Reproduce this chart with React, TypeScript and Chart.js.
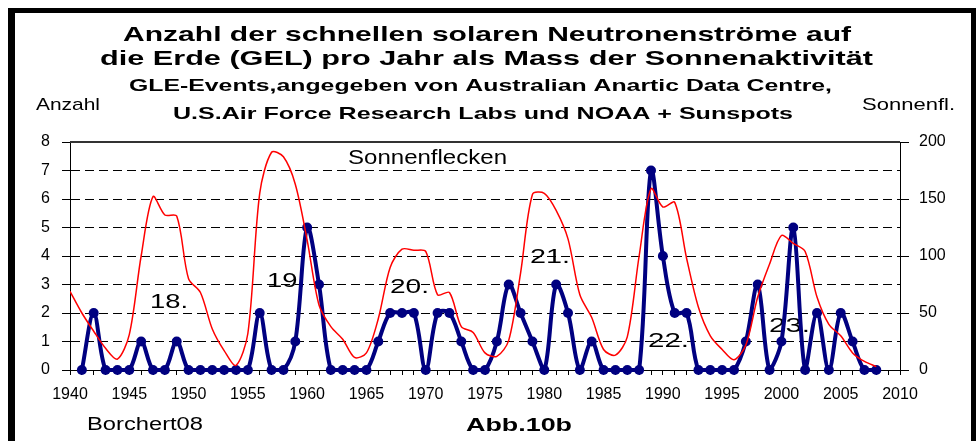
import React, { useEffect, useRef } from 'react';
import { Chart, registerables } from 'chart.js';

Chart.register(...registerables);

// ---- Data ----
const gleYears = [
  1941, 1942, 1943, 1944, 1945, 1946, 1947, 1948, 1949, 1950,
  1951, 1952, 1953, 1954, 1955, 1956, 1957, 1958, 1959, 1960,
  1961, 1962, 1963, 1964, 1965, 1966, 1967, 1968, 1969, 1970,
  1971, 1972, 1973, 1974, 1975, 1976, 1977, 1978, 1979, 1980,
  1981, 1982, 1983, 1984, 1985, 1986, 1987, 1988, 1989, 1990,
  1991, 1992, 1993, 1994, 1995, 1996, 1997, 1998, 1999, 2000,
  2001, 2002, 2003, 2004, 2005, 2006, 2007, 2008,
];
const gleCounts = [
  0, 2, 0, 0, 0, 1, 0, 0, 1, 0,
  0, 0, 0, 0, 0, 2, 0, 0, 1, 5,
  3, 0, 0, 0, 0, 1, 2, 2, 2, 0,
  2, 2, 1, 0, 0, 1, 3, 2, 1, 0,
  3, 2, 0, 1, 0, 0, 0, 0, 7, 4,
  2, 2, 0, 0, 0, 0, 1, 3, 0, 1,
  5, 0, 2, 0, 2, 1, 0, 0,
];
const sunspotYears = [
  1940, 1941, 1942, 1943, 1944, 1945, 1946, 1947, 1948, 1949,
  1950, 1951, 1952, 1953, 1954, 1955, 1956, 1957, 1958, 1959,
  1960, 1961, 1962, 1963, 1964, 1965, 1966, 1967, 1968, 1969,
  1970, 1971, 1972, 1973, 1974, 1975, 1976, 1977, 1978, 1979,
  1980, 1981, 1982, 1983, 1984, 1985, 1986, 1987, 1988, 1989,
  1990, 1991, 1992, 1993, 1994, 1995, 1996, 1997, 1998, 1999,
  2000, 2001, 2002, 2003, 2004, 2005, 2006, 2007, 2008,
];
const sunspots = [
  69, 50, 34, 19, 9.5, 31, 100, 152, 136, 135,
  80, 68, 36, 17, 4, 32, 155, 191, 187, 163,
  114, 57, 38, 27, 11, 15, 45, 90, 106, 105,
  104, 66, 68, 38, 33, 15, 12, 26, 85, 154,
  155, 140, 115, 66, 46, 18, 13, 29, 100, 159,
  143, 147, 98, 55, 30, 18, 9, 22, 64, 93,
  118, 111, 104, 64, 40, 30, 15, 7.5, 3,
];
const xLabelStep = 5;

const titleLines = [
  'Anzahl der schnellen solaren Neutronenströme auf',
  'die Erde (GEL) pro Jahr als Mass der Sonnenaktivität',
];
const subtitleLines = [
  'GLE-Events,angegeben von Australian Anartic Data Centre,',
  'U.S.Air Force Research Labs und NOAA + Sunspots',
];
const leftAxisTitle = 'Anzahl';
const rightAxisTitle = 'Sonnenfl.';
const seriesLabel = 'Sonnenflecken';
const cycleLabels = ['18.', '19.', '20.', '21.', '22.', '23.'];
const authorNote = 'Borchert08';
const figureNote = 'Abb.10b';

const FAMILY = '"Liberation Sans", Arial, Helvetica, sans-serif';

function drawStretched(
  ctx: CanvasRenderingContext2D,
  text: string,
  left: number,
  baseline: number,
  font: string,
  width: number
) {
  ctx.save();
  ctx.font = font;
  ctx.textAlign = 'left';
  ctx.textBaseline = 'alphabetic';
  const w = ctx.measureText(text).width || 1;
  ctx.translate(left, baseline);
  ctx.scale(width / w, 1);
  ctx.fillStyle = '#000';
  ctx.fillText(text, 0, 0);
  ctx.restore();
}

const textPlugin = {
  id: 'textPlugin',
  beforeDatasetsDraw(chart: any) {
    const ctx: CanvasRenderingContext2D = chart.ctx;
    const a = chart.chartArea;
    // plot area top border
    ctx.save();
    ctx.strokeStyle = '#333';
    ctx.lineWidth = 2;
    ctx.beginPath();
    ctx.moveTo(a.left, a.top);
    ctx.lineTo(a.right, a.top);
    ctx.stroke();
    ctx.restore();

    drawStretched(ctx, seriesLabel, 348, 164, `20px ${FAMILY}`, 159);
    const cyc: [number, number, number][] = [
      [150, 308, 38],
      [267, 287, 38],
      [390, 293, 39],
      [530, 263, 40],
      [648, 347, 41],
      [769, 332, 41],
    ];
    cycleLabels.forEach((t, i) => {
      const [l, b, w] = cyc[i];
      drawStretched(ctx, t, l, b, `21px ${FAMILY}`, w);
    });
  },
  afterDraw(chart: any) {
    const ctx: CanvasRenderingContext2D = chart.ctx;
    drawStretched(ctx, titleLines[0], 123, 41, `bold 21px ${FAMILY}`, 728);
    drawStretched(ctx, titleLines[1], 100, 65, `bold 21px ${FAMILY}`, 773);
    drawStretched(ctx, subtitleLines[0], 129, 91, `bold 17px ${FAMILY}`, 703);
    drawStretched(ctx, subtitleLines[1], 173, 119, `bold 17px ${FAMILY}`, 620);
    drawStretched(ctx, leftAxisTitle, 36, 110, `17px ${FAMILY}`, 64);
    drawStretched(ctx, rightAxisTitle, 862, 110, `17px ${FAMILY}`, 93);
    drawStretched(ctx, authorNote, 87, 430, `18px ${FAMILY}`, 116);
    drawStretched(ctx, figureNote, 466, 431, `bold 18px ${FAMILY}`, 106);

    // outer frame
    ctx.save();
    ctx.fillStyle = '#000';
    ctx.fillRect(8, 8, 968, 5);
    ctx.fillRect(8, 8, 7, 433);
    ctx.fillRect(971, 8, 5, 433);
    ctx.restore();
  },
};

export default function App() {
  const ref = useRef<HTMLCanvasElement>(null);
  useEffect(() => {
    document.body.style.margin = '0';
    const tickFont = { family: FAMILY, size: 16 };
    const chart = new Chart(ref.current as HTMLCanvasElement, {
      type: 'line',
      data: {
        datasets: [
          {
            label: 'Sonnenflecken',
            data: sunspotYears.map((x, i) => ({ x, y: sunspots[i] })),
            yAxisID: 'y1',
            borderColor: '#ff0000',
            borderWidth: 1.5,
            pointRadius: 0,
            tension: 0.3,
          },
          {
            label: 'GLE',
            data: gleYears.map((x, i) => ({ x, y: gleCounts[i] })),
            yAxisID: 'y',
            borderColor: '#000080',
            backgroundColor: '#000080',
            borderWidth: 4,
            pointRadius: 5,
            pointBackgroundColor: '#000080',
            pointBorderWidth: 0,
            tension: 0.33,
            clip: 8,
          },
        ] as any,
      },
      options: {
        animation: false,
        responsive: false,
        devicePixelRatio: 1,
        layout: { padding: { top: 142, left: 0, right: 0, bottom: 0 } },
        plugins: {
          legend: { display: false },
          tooltip: { enabled: false },
          title: { display: false },
        },
        scales: {
          x: {
            type: 'linear',
            position: 'bottom',
            min: 1940,
            max: 2010,
            ticks: {
              stepSize: 1,
              autoSkip: false,
              maxRotation: 0,
              minRotation: 0,
              padding: 10,
              color: '#000',
              font: tickFont,
              callback: (v: any) => (Number(v) % xLabelStep === 0 ? String(v) : ''),
            },
            grid: { drawOnChartArea: false, tickLength: 5, tickColor: '#000', tickWidth: 1 },
            border: { color: '#000', width: 1 },
            afterFit: (s: any) => {
              s.height = 71;
            },
          },
          y: {
            type: 'linear',
            position: 'left',
            min: 0,
            max: 8,
            ticks: { stepSize: 1, padding: 12, color: '#000', font: tickFont },
            grid: {
              color: (c: any) =>
                c.tick && c.tick.value > 0 && c.tick.value < 8 ? '#000' : 'rgba(0,0,0,0)',
              tickColor: '#000',
              tickLength: 8,
              lineWidth: 1,
            },
            border: { color: '#000', width: 1, dash: [9, 5] },
            afterFit: (s: any) => {
              s.width = 70;
            },
          },
          y1: {
            type: 'linear',
            position: 'right',
            min: 0,
            max: 200,
            ticks: { stepSize: 50, padding: 10, color: '#000', font: tickFont },
            grid: { drawOnChartArea: false, tickLength: 9, tickColor: '#000' },
            border: { color: '#000', width: 1 },
            afterFit: (s: any) => {
              s.width = 76;
            },
          },
        } as any,
      },
      plugins: [textPlugin],
    });
    return () => chart.destroy();
  }, []);
  return (
    <div style={{ width: 976, height: 441, background: '#fff', position: 'relative' }}>
      <canvas ref={ref} width={976} height={441} style={{ display: 'block' }} />
    </div>
  );
}
